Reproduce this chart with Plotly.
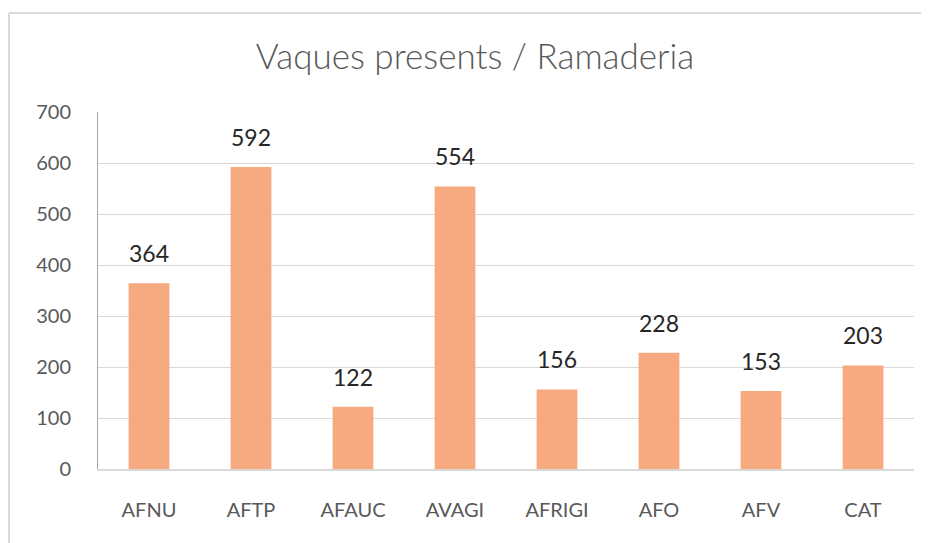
import plotly.graph_objects as go

categories = ["AFNU", "AFTP", "AFAUC", "AVAGI", "AFRIGI", "AFO", "AFV", "CAT"]
values = [364, 592, 122, 554, 156, 228, 153, 203]
y_ticks = [0, 100, 200, 300, 400, 500, 600, 700]

OFF = 8  # page body margin
W, H = 929 - OFF, 543 - OFF
L, R, T, B = 98 - OFF, 15, 112 - OFF, 74
pw = W - L - R
ph = H - T - B

def px_to_paper_x(px):
    return (px - OFF - L) / pw

def px_to_paper_y(py):
    return (H - B - (py - OFF)) / ph

fig = go.Figure()
fig.add_trace(go.Bar(
    x=categories, y=values,
    marker=dict(color="#F7A97F", line=dict(width=0)),
    width=0.4,
    hoverinfo="x+y",
))

for c, v in zip(categories, values):
    fig.add_annotation(x=c, y=v, text=str(v), showarrow=False,
                       yanchor="bottom", yshift=14,
                       font=dict(family="Lato, Carlito, sans-serif", size=23, color="#262626"))

# outer chart border (partially visible)
border = "#D9D9D9"
fig.add_shape(type="line", xref="paper", yref="paper",
              x0=px_to_paper_x(9), x1=px_to_paper_x(W + 40),
              y0=px_to_paper_y(13), y1=px_to_paper_y(13),
              line=dict(color=border, width=2))
fig.add_shape(type="line", xref="paper", yref="paper",
              x0=px_to_paper_x(9), x1=px_to_paper_x(9),
              y0=px_to_paper_y(13), y1=px_to_paper_y(H + 40),
              line=dict(color=border, width=2))

fig.update_layout(
    width=W, height=H,
    margin=dict(l=L, r=R, t=T, b=B),
    paper_bgcolor="white", plot_bgcolor="white",
    showlegend=False,
    title=dict(text="Vaques presents / Ramaderia", x=px_to_paper_x(475), xref="paper",
               y=1 - (57 - OFF) / H, yanchor="middle", xanchor="center",
               font=dict(family="Lato, Carlito, sans-serif", size=35, color="#595959", weight=300)),
    bargap=0.6,
    font=dict(family="Lato, Carlito, sans-serif", color="#595959"),
)
fig.update_xaxes(
    showline=True, linecolor="#D9D9D9", linewidth=2,
    showgrid=False, ticks="", ticklabelstandoff=22,
    tickfont=dict(size=20, color="#595959"),
)
fig.update_yaxes(
    range=[0, 700], tickvals=y_ticks, ticktext=[str(t) for t in y_ticks],
    showgrid=True, gridcolor="#D9D9D9", gridwidth=1,
    showline=True, linecolor="#A6A6A6", linewidth=1,
    zeroline=False, ticks="", ticklabelstandoff=22,
    tickfont=dict(size=20, color="#595959"),
)

fig.write_html("out.html")
